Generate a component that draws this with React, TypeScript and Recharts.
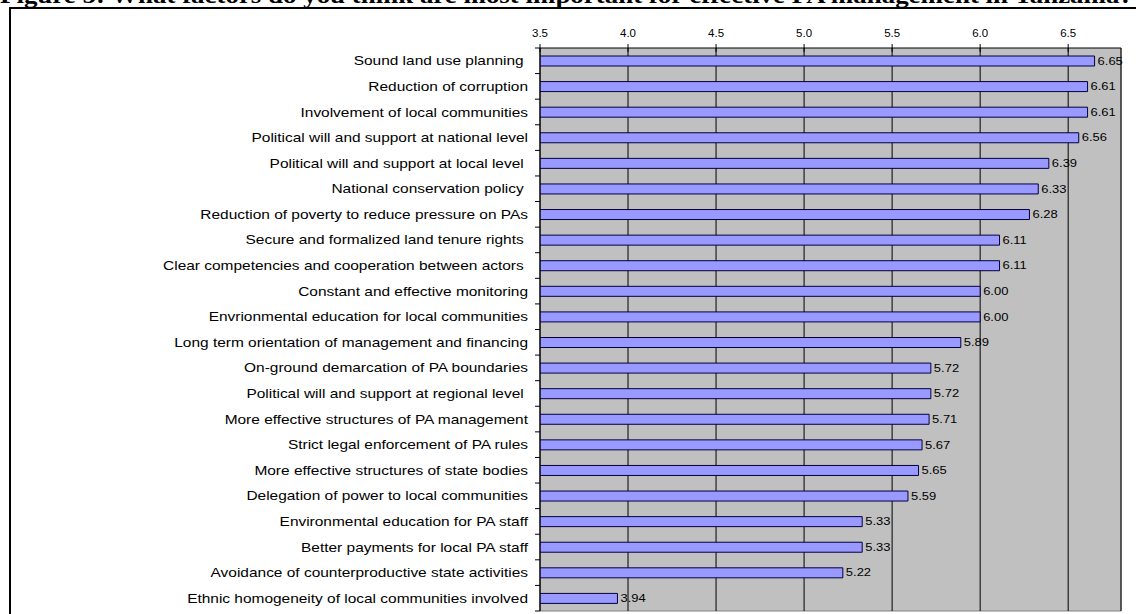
import React from "react";
import {
  BarChart,
  Bar,
  XAxis,
  YAxis,
  CartesianGrid,
  LabelList,
} from "recharts";

const factors = [
  "Sound land use planning ",
  "Reduction of corruption",
  "Involvement of local communities",
  "Political will and support at national level",
  "Political will and support at local level ",
  "National conservation policy ",
  "Reduction of poverty to reduce pressure on PAs",
  "Secure and formalized land tenure rights ",
  "Clear competencies and cooperation between actors ",
  "Constant and effective monitoring",
  "Envrionmental education for local communities",
  "Long term orientation of management and financing",
  "On-ground demarcation of PA boundaries",
  "Political will and support at regional level ",
  "More effective structures of PA management",
  "Strict legal enforcement of PA rules",
  "More effective structures of state bodies",
  "Delegation of power to local communities",
  "Environmental education for PA staff",
  "Better payments for local PA staff",
  "Avoidance of counterproductive state activities",
  "Ethnic homogeneity of local communities involved",
];

const scores = [
  6.65, 6.61, 6.61, 6.56, 6.39, 6.33, 6.28, 6.11, 6.11, 6.0, 6.0, 5.89, 5.72,
  5.72, 5.71, 5.67, 5.65, 5.59, 5.33, 5.33, 5.22, 3.94,
];

const xTicks = [3.5, 4.0, 4.5, 5.0, 5.5, 6.0, 6.5];

const data = factors.map((name, i) => ({ name, value: scores[i] }));

const FONT = "'Liberation Sans', Arial, sans-serif";
// the source figure is a bit stretched sideways
const STRETCH = 1.19;

function FactorTick(props: any) {
  const { x, y, payload, index } = props;
  const half = payload.offset ?? 12.8;
  return (
    <g>
      <text
        transform={`translate(${x - 4},${y}) scale(${STRETCH},1)`}
        textAnchor="end"
        dominantBaseline="central"
        fontSize={13}
        fontFamily={FONT}
        fill="#000"
        style={{ whiteSpace: "pre" }}
      >
        {payload.value}
      </text>
      <line x1={x + 3} x2={x + 8} y1={y - half} y2={y - half} stroke="#000" />
      {index === factors.length - 1 && (
        <line x1={x + 3} x2={x + 8} y1={y + half} y2={y + half} stroke="#000" />
      )}
    </g>
  );
}

function ScaleTick(props: any) {
  const { x, y, payload } = props;
  return (
    <g>
      <line x1={x} x2={x} y1={y + 7} y2={y + 15} stroke="#000" />
      <text
        transform={`translate(${x},${y}) scale(1.15,1)`}
        textAnchor="middle"
        fontSize={10}
        fontFamily={FONT}
        fill="#000"
      >
        {Number(payload.value).toFixed(1)}
      </text>
    </g>
  );
}

function ValueLabel(props: any) {
  const { x, y, width, height, value } = props;
  return (
    <text
      transform={`translate(${x + width + 3},${y + height / 2}) scale(1.18,1)`}
      dominantBaseline="central"
      fontSize={11}
      fontFamily={FONT}
      fill="#000"
    >
      {Number(value).toFixed(2)}
    </text>
  );
}

export default function App() {
  return (
    <div
      style={{
        position: "absolute",
        left: 0,
        top: 0,
        width: 1136,
        height: 614,
        overflow: "hidden",
        background: "#fff",
      }}
    >
      <div
        style={{
          position: "absolute",
          left: 0,
          top: -18,
          whiteSpace: "nowrap",
          fontFamily: "'Liberation Serif', 'Times New Roman', serif",
          fontWeight: "bold",
          fontSize: 23,
          lineHeight: "27px",
          transform: "scale(1.17,1)",
          transformOrigin: "0 0",
        }}
      >
        Figure 5: What factors do you think are most important for effective PA
        management in Tanzania?
      </div>
      <div
        style={{
          position: "absolute",
          left: 9,
          top: 7,
          width: 1140,
          height: 620,
          borderLeft: "2px solid #000",
          borderTop: "2px solid #000",
        }}
      />
      <div style={{ position: "absolute", left: 0, top: 0 }}>
        <BarChart
          width={1136}
          height={614}
          data={data}
          layout="vertical"
          margin={{ top: 18, right: 15, bottom: 3, left: 0 }}
          barCategoryGap={0}
        >
          <CartesianGrid
            fill="#c0c0c0"
            stroke="#808080"
            horizontalCoordinatesGenerator={({ offset }: any) => [
              offset.top + offset.height,
            ]}
            verticalCoordinatesGenerator={({ offset }: any) => [
              offset.left + offset.width,
            ]}
          />
          <CartesianGrid horizontal={false} stroke="#000" />
          <XAxis
            type="number"
            orientation="top"
            domain={[3.5, 6.8]}
            ticks={xTicks}
            allowDataOverflow
            height={30}
            tick={<ScaleTick />}
            tickSize={4}
            tickMargin={7}
            axisLine={{ stroke: "#000" }}
            tickLine={false}
          />
          <YAxis
            type="category"
            dataKey="name"
            width={540}
            interval={0}
            tickLine={false}
            axisLine={{ stroke: "#000" }}
            tick={<FactorTick />}
          />
          <Bar
            dataKey="value"
            fill="#9999ff"
            stroke="#000040"
            strokeWidth={1}
            barSize={10}
            isAnimationActive={false}
          >
            <LabelList dataKey="value" content={<ValueLabel />} />
          </Bar>
        </BarChart>
      </div>
    </div>
  );
}
